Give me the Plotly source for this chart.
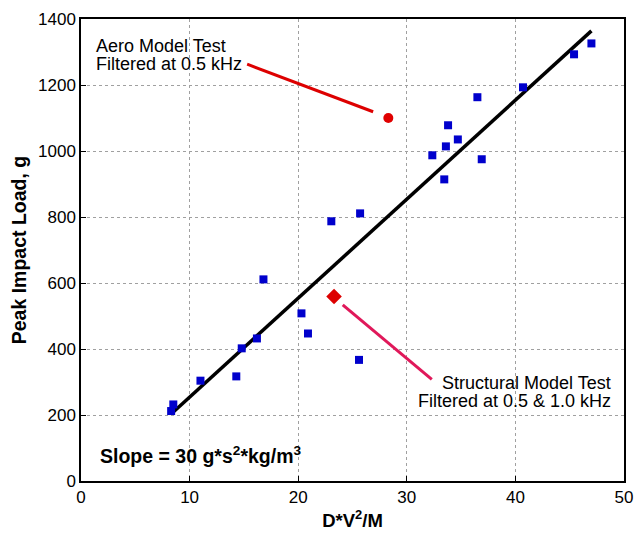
import plotly.graph_objects as go

# Data
test_x = [8.3, 8.5, 11.0, 14.3, 14.8, 16.2, 16.8, 20.3, 20.9, 23.05, 25.7, 25.6,
          32.35, 33.45, 33.6, 33.8, 34.7, 36.5, 36.9, 40.7, 45.4, 47.0]
test_y = [212, 232, 304, 317, 402, 432, 611, 508, 447, 787, 811, 367,
          987, 914, 1014, 1078, 1035, 1163, 975, 1193, 1293, 1326]
aero_x = [28.3]
aero_y = [1100]
struct_x = [23.3]
struct_y = [559]
fit_x = [8.4, 47.0]
fit_y = [206, 1364]
x_ticks = [0, 10, 20, 30, 40, 50]
y_ticks = [0, 200, 400, 600, 800, 1000, 1200, 1400]

FONT = "Liberation Sans, Arial, Helvetica, sans-serif"

fig = go.Figure()
fig.add_trace(go.Scatter(x=fit_x, y=fit_y, mode="lines",
                         line=dict(color="black", width=3.5), showlegend=False))
fig.add_trace(go.Scatter(x=test_x, y=test_y, mode="markers",
                         marker=dict(symbol="square", size=8, color="#0000cc"),
                         showlegend=False))
fig.add_trace(go.Scatter(x=aero_x, y=aero_y, mode="markers",
                         marker=dict(symbol="circle", size=10, color="#e00000"),
                         showlegend=False))
fig.add_trace(go.Scatter(x=struct_x, y=struct_y, mode="markers",
                         marker=dict(symbol="diamond", size=12, color="#dd0000"),
                         showlegend=False))

# pointer lines
fig.add_shape(type="line", xref="x", yref="y", x0=15.3, y0=1263, x1=26.9, y1=1119,
              line=dict(color="#dd0000", width=3))
fig.add_shape(type="line", xref="x", yref="y", x0=24.1, y0=534, x1=32.3, y1=308,
              line=dict(color="#e0185a", width=3))

ann_font = dict(family=FONT, size=18, color="black")
anns = [
    dict(x=1.2, y=1318, text="Aero Model Test", xanchor="left"),
    dict(x=1.2, y=1264, text="Filtered at 0.5 kHz", xanchor="left"),
    dict(x=49.0, y=296, text="Structural Model Test", xanchor="right"),
    dict(x=49.0, y=243, text="Filtered at 0.5 &amp; 1.0 kHz", xanchor="right"),
]
for a in anns:
    fig.add_annotation(xref="x", yref="y", yanchor="middle", showarrow=False,
                       font=ann_font, **a)
fig.add_annotation(xref="x", yref="y", x=1.6, y=80, xanchor="left", yanchor="middle",
                   showarrow=False, text="<b>Slope = 30 g*s<sup>2</sup>*kg/m<sup>3</sup></b>",
                   font=dict(family=FONT, size=19.5, color="black"))

axis_common = dict(
    showline=True, linecolor="black", linewidth=1.5, mirror=True,
    ticks="inside", ticklen=5, tickcolor="black", tickwidth=1,
    showgrid=True, gridcolor="#a0a0a0", griddash="dot", gridwidth=1,
    zeroline=False, automargin=False, ticklabeloverflow="allow",
    tickfont=dict(family=FONT, size=17, color="black"),
)
fig.update_xaxes(range=[0, 50], tickvals=x_ticks, **axis_common,
                 title=dict(text="<b>D*V<sup>2</sup>/M</b>",
                            font=dict(family=FONT, size=18.5, color="black"), standoff=8))
fig.update_yaxes(range=[0, 1400], tickvals=y_ticks, **axis_common,
                 title=dict(text="<b>Peak Impact Load, g</b>",
                            font=dict(family=FONT, size=19.5, color="black"), standoff=6))

fig.update_layout(width=634, height=536, margin=dict(l=81, r=10, t=19, b=55),
                  plot_bgcolor="white", paper_bgcolor="white",
                  font=dict(family=FONT, color="black"))

# remove the default 8px body margin of the page so the figure fills the window
fig.write_html("out.html", config={"displayModeBar": False},
               post_script="document.body.style.margin='0px';")
